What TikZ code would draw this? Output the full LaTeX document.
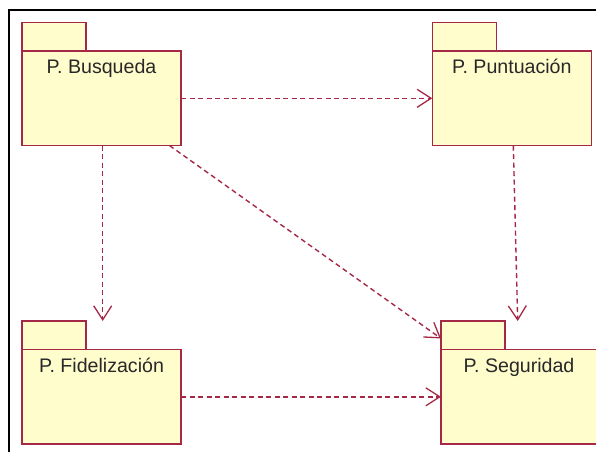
\documentclass[tikz,border=0pt]{standalone}
\usepackage{fontspec}
\setmainfont{Liberation Sans}
\usetikzlibrary{arrows.meta,calc}
\definecolor{pkgline}{RGB}{165,40,70}
\definecolor{pkgfill}{RGB}{255,253,204}
\definecolor{pkgtext}{RGB}{40,40,40}
\begin{document}
\begin{tikzpicture}[x=1pt,y=-1pt,
  pkgbody/.style={draw=pkgline,fill=pkgfill,line width=1.5pt,minimum width=159pt,minimum height=94.5pt,inner sep=0pt,outer sep=0pt},
  pkgtab/.style={draw=pkgline,fill=pkgfill,line width=1.5pt,minimum width=64pt,minimum height=28.6pt,inner sep=0pt,outer sep=0pt,anchor=south west},
  pkglabel/.style={anchor=base,inner sep=0pt,text=pkgtext,font=\fontsize{19.6}{23}\selectfont},
  dep/.style={draw=pkgline,line width=1.4pt,dash pattern=on 5pt off 3.5pt,-{Straight Barb[length=14pt,width=18pt,line width=1.3pt]}}
]
\useasboundingbox (0,0) rectangle (596,451);
\clip (0,0) rectangle (596,451);
% frame
\draw[line width=2pt,black] (9,470) -- (9,10) -- (620,10);
% packages
\node[pkgbody] (bus) at (101.5,98.3) {};
\node[pkgtab] (bustab) at (bus.north west) {};
\node[pkglabel] (buslbl) at ($(bus.north)+(0,22)$) {P. Busqueda};

\node[pkgbody] (pun) at (511.8,98.3) {};
\node[pkgtab] (puntab) at (pun.north west) {};
\node[pkglabel] (punlbl) at ($(pun.north)+(0,22.5)$) {P. Puntuación};

\node[pkgbody] (fid) at (101.5,396.8) {};
\node[pkgtab] (fidtab) at (fid.north west) {};
\node[pkglabel] (fidlbl) at ($(fid.north)+(0,23)$) {P. Fidelización};

\node[pkgbody] (seg) at (520.5,396.8) {};
\node[pkgtab] (segtab) at (seg.north west) {};
\node[pkglabel] (seglbl) at ($(seg.north)+(-1.5,23)$) {P. Seguridad};

% connector end points
\coordinate (busS) at ($(bus.south)+(1.2,0)$);
\coordinate (fidT) at (busS |- fidtab.north);
\coordinate (busD) at ($(bus.south east)+(-11.5,0)$);
\coordinate (segD) at ($(segtab.north west)+(0,17.5)$);
\coordinate (punS) at ($(pun.south)+(1.5,0)$);
\coordinate (segX) at ($(seg.north)+(-2.8,0)$);
\coordinate (segT) at (segX |- segtab.north);

% dependencies
\draw[dep] (bus.east) -- (pun.west);
\draw[dep] (busS) -- (fidT);
\draw[dep] (busD) -- (segD);
\draw[dep] (punS) -- (segT);
\draw[dep] (fid.east) -- (seg.west);
\end{tikzpicture}
\end{document}
